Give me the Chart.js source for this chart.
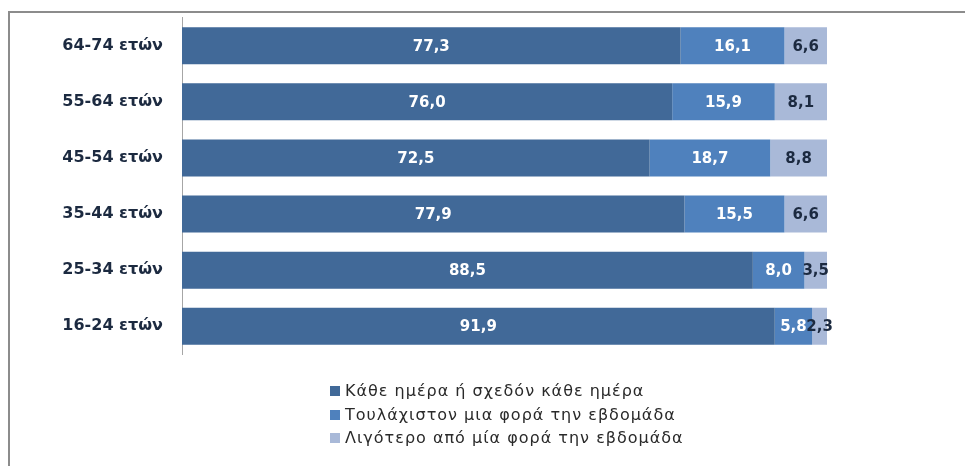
<!DOCTYPE html>
<html>
<head>
<meta charset="utf-8">
<script src="https://cdn.jsdelivr.net/npm/chart.js@4/dist/chart.umd.min.js"></script>
<style>
    html, body { margin: 0; padding: 0; background: #fff; }
    body { width: 965px; height: 466px; position: relative; overflow: hidden; font-family: "DejaVu Sans", Verdana, sans-serif; }
    #frame { position: absolute; left: 8px; top: 11px; width: 980px; height: 480px; border-left: 2px solid #8c8c8c; border-top: 2px solid #8c8c8c; }
    #chart { position: absolute; left: 0; top: -11px; }
    #legend { position: absolute; left: 330px; top: 379px; font-size: 16px; letter-spacing: 1px; color: #2a2a2a; }
    #legend div { height: 23.5px; line-height: 23.5px; white-space: nowrap; }
    #legend span.box { display: inline-block; width: 10px; height: 10px; margin-right: 5px; vertical-align: 0px; }
</style>
</head>
<body>
<div id="frame"></div>
<canvas id="chart" width="965" height="394"></canvas>
<div id="legend"></div>
<script>
// age groups, top to bottom
const categories = ["64-74 ετών", "55-64 ετών", "45-54 ετών", "35-44 ετών", "25-34 ετών", "16-24 ετών"];
const daily = [77.3, 76.0, 72.5, 77.9, 88.5, 91.9];
const weekly = [16.1, 15.9, 18.7, 15.5, 8.0, 5.8];
const lessOften = [6.6, 8.1, 8.8, 6.6, 3.5, 2.3];
const seriesNames = [
    "Κάθε ημέρα ή σχεδόν κάθε ημέρα",
    "Τουλάχιστον μια φορά την εβδομάδα",
    "Λιγότερο από μία φορά την εβδομάδα"
];
const colors = ['#416998', '#4F81BD', '#A9B9D8'];
const labelColors = ['#ffffff', '#ffffff', '#1c2a40'];

// values written in the middle of each segment, greek decimal comma
const segmentLabels = {
    id: 'segmentLabels',
    afterDatasetsDraw(chart) {
        const ctx = chart.ctx;
        ctx.save();
        ctx.font = 'bold 15px "DejaVu Sans", Verdana, sans-serif';
        ctx.textAlign = 'center';
        ctx.textBaseline = 'middle';
        chart.data.datasets.forEach((ds, i) => {
            const meta = chart.getDatasetMeta(i);
            meta.data.forEach((bar, j) => {
                const p = bar.getProps(['x', 'y', 'base'], true);
                ctx.fillStyle = labelColors[i];
                ctx.fillText(ds.data[j].toFixed(1).replace('.', ','), (p.x + p.base) / 2, p.y + 1);
            });
        });
        ctx.restore();
    }
};

const datasets = [daily, weekly, lessOften].map((d, i) => ({
    label: seriesNames[i],
    data: d,
    backgroundColor: colors[i],
    borderWidth: 0,
    categoryPercentage: 0.66,
    barPercentage: 1
}));

// canvas is shifted up: the y scale adds ~10px of label padding top and bottom
new Chart(document.getElementById('chart'), {
    type: 'bar',
    data: { labels: categories, datasets: datasets },
    options: {
        indexAxis: 'y',
        responsive: false,
        animation: false,
        layout: { padding: { left: 0, right: 138, top: 0, bottom: 0 } },
        plugins: { legend: { display: false }, tooltip: { enabled: false } },
        scales: {
            x: { stacked: true, min: 0, max: 100, display: false },
            y: {
                stacked: true,
                afterFit(scale) { scale.width = 182; },
                grid: { display: false, drawTicks: false },
                border: { display: true, color: '#a6a6a6', width: 1 },
                ticks: {
                    color: '#1c2a40',
                    padding: 19,
                    font: { family: '"DejaVu Sans", Verdana, sans-serif', size: 16, weight: 'bold' }
                }
            }
        }
    },
    plugins: [segmentLabels]
});

const leg = document.getElementById('legend');
seriesNames.forEach((n, i) => {
    leg.innerHTML += `<div><span class="box" style="background:${colors[i]}"></span>${n}</div>`;
});
</script>
</body>
</html>
